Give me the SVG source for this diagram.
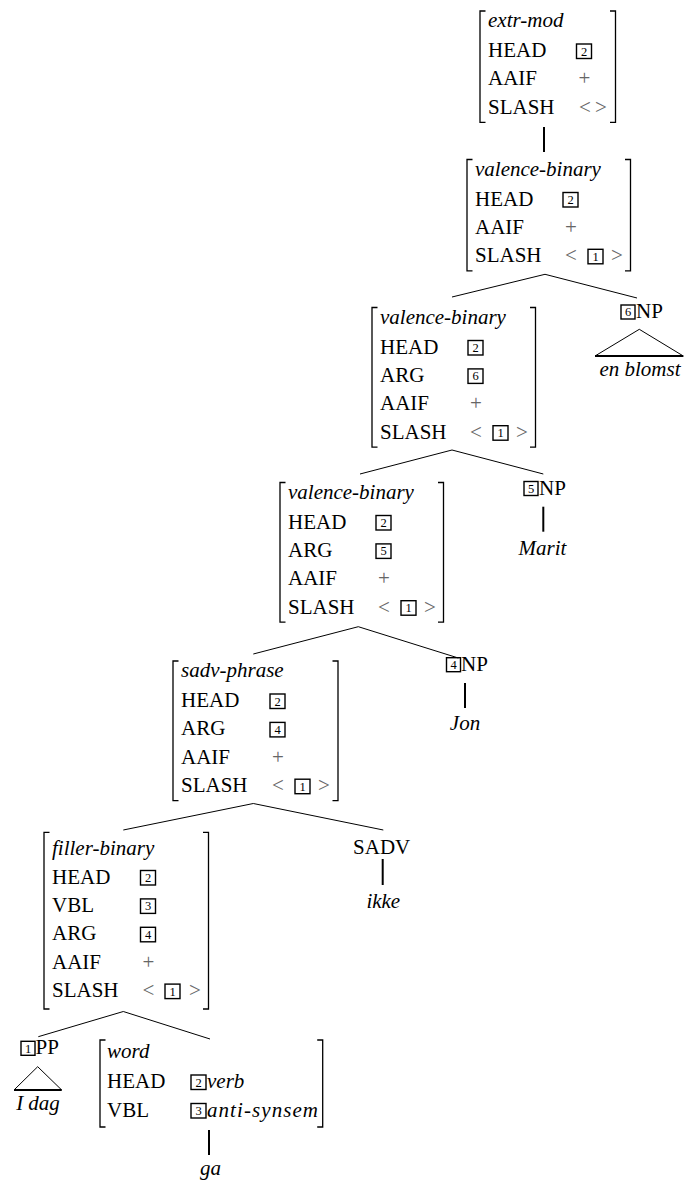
<svg xmlns="http://www.w3.org/2000/svg" width="685" height="1183" viewBox="0 0 685 1183">
<style>
text{font-family:'Times New Roman','Liberation Serif',Times,'DejaVu Serif','Noto Serif',Tinos,'Nimbus Roman','FreeSerif',serif;font-size:21px;fill:#000}
.i{font-style:italic}
.g{fill:#666;text-anchor:middle}
.m{text-anchor:middle}
.br{fill:none;stroke:#000;stroke-width:1.3}
.box{fill:none;stroke:#000;stroke-width:1.4}
.d{font-size:12.5px;text-anchor:middle}
.e{fill:none;stroke:#000;stroke-width:1}
.u{fill:none;stroke:#000;stroke-width:2}
.base{fill:none;stroke:#000;stroke-width:1.8}
</style>
<rect width="685" height="1183" fill="#fff"/>
<g id="edges">
<line class="u" x1="544" y1="127" x2="544" y2="152"/>
<polyline class="e" points="452,297 545,274.3 637,298"/>
<polyline class="e" points="360,474 452,450 543.3,474"/>
<polyline class="e" points="253.3,654 358.3,626.7 458.3,658"/>
<polyline class="e" points="123.3,830 253.3,803.5 383.3,830"/>
<polyline class="e" points="38.3,1036.7 123.3,1011.5 210,1039"/>
<line class="u" x1="543.3" y1="506.7" x2="543.3" y2="531.7"/>
<line class="u" x1="465" y1="683" x2="465" y2="708"/>
<line class="u" x1="382.7" y1="859" x2="382.7" y2="885"/>
<line class="u" x1="209" y1="1130" x2="209" y2="1155"/>
</g>
<g id="n1">
<path class="br" d="M485.5 11H480V122.3H485.5M610 11H615.5V122.3H610"/>
<text class="i" x="488" y="27">extr-mod</text>
<text x="488" y="57">HEAD</text>
<rect class="box" x="576.5" y="44" width="15" height="14.5"/><text class="d" x="584" y="55.5">2</text>
<text x="488" y="85.4">AAIF</text><text class="g" x="584.5" y="85.4">+</text>
<text x="488" y="113.8">SLASH</text><text class="g" x="585" y="113.8">&lt;</text><text class="g" x="601" y="113.8">&gt;</text>
</g>
<g id="n2">
<path class="br" d="M472.5 159.5H467V270.8H472.5M625 159.5H630.5V270.8H625"/>
<text class="i" x="475" y="175.5">valence-binary</text>
<text x="475" y="205.5">HEAD</text>
<rect class="box" x="563" y="192.5" width="15" height="14.5"/><text class="d" x="570.5" y="204">2</text>
<text x="475" y="233.9">AAIF</text><text class="g" x="571" y="233.9">+</text>
<text x="475" y="262.3">SLASH</text><text class="g" x="571" y="262.3">&lt;</text>
<rect class="box" x="588" y="249.3" width="15" height="14.5"/><text class="d" x="595.5" y="260.8">1</text>
<text class="g" x="617" y="262.3">&gt;</text>
</g>
<g id="n3">
<path class="br" d="M377.5 307.5H372V447.2H377.5M530 307.5H535.5V447.2H530"/>
<text class="i" x="380" y="323.5">valence-binary</text>
<text x="380" y="353.5">HEAD</text>
<rect class="box" x="468" y="340.5" width="15" height="14.5"/><text class="d" x="475.5" y="352">2</text>
<text x="380" y="381.9">ARG</text>
<rect class="box" x="468" y="368.9" width="15" height="14.5"/><text class="d" x="475.5" y="380.4">6</text>
<text x="380" y="410.3">AAIF</text><text class="g" x="476" y="410.3">+</text>
<text x="380" y="438.7">SLASH</text><text class="g" x="476" y="438.7">&lt;</text>
<rect class="box" x="493" y="425.7" width="15" height="14.5"/><text class="d" x="500.5" y="437.2">1</text>
<text class="g" x="522" y="438.7">&gt;</text>
</g>
<g id="n4">
<path class="br" d="M285.5 482.5H280V622.2H285.5M438 482.5H443.5V622.2H438"/>
<text class="i" x="288" y="498.5">valence-binary</text>
<text x="288" y="528.5">HEAD</text>
<rect class="box" x="376" y="515.5" width="15" height="14.5"/><text class="d" x="383.5" y="527">2</text>
<text x="288" y="556.9">ARG</text>
<rect class="box" x="376" y="543.9" width="15" height="14.5"/><text class="d" x="383.5" y="555.4">5</text>
<text x="288" y="585.3">AAIF</text><text class="g" x="384" y="585.3">+</text>
<text x="288" y="613.7">SLASH</text><text class="g" x="384" y="613.7">&lt;</text>
<rect class="box" x="401" y="600.7" width="15" height="14.5"/><text class="d" x="408.5" y="612.2">1</text>
<text class="g" x="430" y="613.7">&gt;</text>
</g>
<g id="n5">
<path class="br" d="M178.5 661H173V800.7H178.5M332.5 661H338V800.7H332.5"/>
<text class="i" x="181" y="677">sadv-phrase</text>
<text x="181" y="707">HEAD</text>
<rect class="box" x="270" y="694" width="15" height="14.5"/><text class="d" x="277.5" y="705.5">2</text>
<text x="181" y="735.4">ARG</text>
<rect class="box" x="270" y="722.4" width="15" height="14.5"/><text class="d" x="277.5" y="733.9">4</text>
<text x="181" y="763.8">AAIF</text><text class="g" x="278" y="763.8">+</text>
<text x="181" y="792.2">SLASH</text><text class="g" x="278" y="792.2">&lt;</text>
<rect class="box" x="295" y="779.2" width="15" height="14.5"/><text class="d" x="302.5" y="790.7">1</text>
<text class="g" x="324" y="792.2">&gt;</text>
</g>
<g id="n6">
<path class="br" d="M49.5 832.3H44V1009H49.5M203 832.3H208.5V1009H203"/>
<text class="i" x="52" y="854.5">filler-binary</text>
<text x="52" y="883.5">HEAD</text>
<rect class="box" x="140.5" y="870.5" width="15" height="14.5"/><text class="d" x="148" y="882">2</text>
<text x="52" y="911.9">VBL</text>
<rect class="box" x="140.5" y="898.9" width="15" height="14.5"/><text class="d" x="148" y="910.4">3</text>
<text x="52" y="940.3">ARG</text>
<rect class="box" x="140.5" y="927.3" width="15" height="14.5"/><text class="d" x="148" y="938.8">4</text>
<text x="52" y="968.7">AAIF</text><text class="g" x="148.5" y="968.7">+</text>
<text x="52" y="997.1">SLASH</text><text class="g" x="148.5" y="997.1">&lt;</text>
<rect class="box" x="165" y="984.1" width="15" height="14.5"/><text class="d" x="172.5" y="995.6">1</text>
<text class="g" x="195" y="997.1">&gt;</text>
</g>
<g id="n7">
<path class="br" d="M105.5 1040H100V1127H105.5M317.2 1040H322.7V1127H317.2"/>
<text class="i" x="107" y="1058">word</text>
<text x="107" y="1088">HEAD</text>
<rect class="box" x="191" y="1075" width="15" height="14.5"/><text class="d" x="198.5" y="1086.5">2</text>
<text class="i" x="207" y="1088">verb</text>
<text x="107" y="1116.5">VBL</text>
<rect class="box" x="191" y="1103.5" width="15" height="14.5"/><text class="d" x="198.5" y="1115">3</text>
<text class="i" x="207" y="1116.5" textLength="111" lengthAdjust="spacing">anti-synsem</text>
</g>
<g id="np6">
<rect class="box" x="621" y="305" width="14" height="14"/><text class="d" x="628" y="316.3">6</text>
<text x="636" y="318">NP</text>
<path class="e" d="M595 356L639.3 329.3L683.3 356"/>
<line class="base" x1="595" y1="356" x2="683.3" y2="356"/>
<text class="i m" x="640" y="376">en blomst</text>
</g>
<g id="np5">
<rect class="box" x="524" y="481.5" width="14" height="14"/><text class="d" x="531" y="492.8">5</text>
<text x="539" y="494.5">NP</text>
<text class="i m" x="542.5" y="555">Marit</text>
</g>
<g id="np4">
<rect class="box" x="446.5" y="657.7" width="14" height="14"/><text class="d" x="453.5" y="669">4</text>
<text x="461" y="670.7">NP</text>
<text class="i m" x="465" y="730">Jon</text>
</g>
<g id="sadv">
<text class="m" x="381.7" y="854">SADV</text>
<text class="i m" x="383.3" y="908.3">ikke</text>
</g>
<g id="pp1">
<rect class="box" x="21" y="1041.3" width="14" height="14"/><text class="d" x="28" y="1052.6">1</text>
<text x="35.5" y="1054.3">PP</text>
<path class="e" d="M14 1090L37.7 1066.7L61.7 1090"/>
<line class="base" x1="14" y1="1090" x2="61.7" y2="1090"/>
<text class="i m" x="38" y="1110">I dag</text>
</g>
<g id="ga">
<text class="i m" x="210.5" y="1175">ga</text>
</g>
</svg>
